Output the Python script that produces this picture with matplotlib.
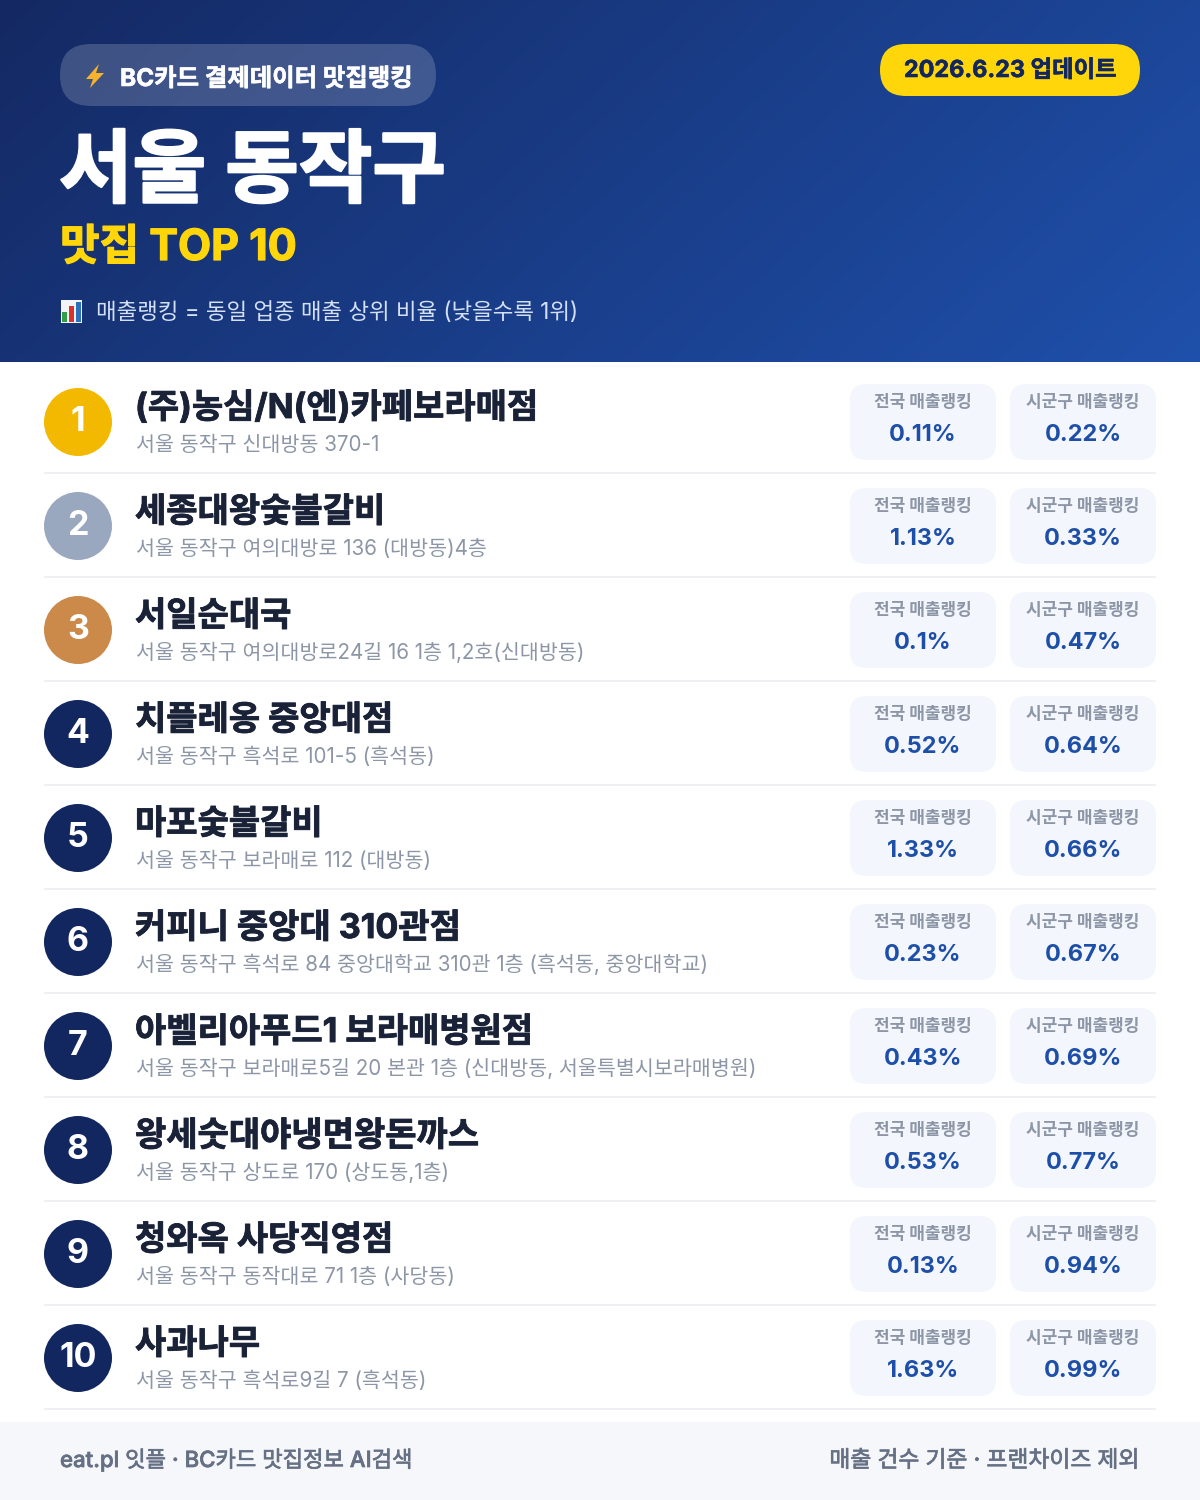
import numpy as np
import matplotlib
matplotlib.use("Agg")
import matplotlib.pyplot as plt
import matplotlib.patheffects as pe
from matplotlib.patches import FancyBboxPatch, Circle, Rectangle, Polygon

FONT = ['Inter', 'Noto Sans CJK KR', 'DejaVu Sans']
plt.rcParams['font.family'] = FONT

ranks = [1, 2, 3, 4, 5, 6, 7, 8, 9, 10]
names = ["(주)농심/N(엔)카페보라매점", "세종대왕숯불갈비", "서일순대국", "치플레옹 중앙대점", "마포숯불갈비",
         "커피니 중앙대 310관점", "아벨리아푸드1 보라매병원점", "왕세숫대야냉면왕돈까스", "청와옥 사당직영점", "사과나무"]
addresses = ["서울 동작구 신대방동 370-1", "서울 동작구 여의대방로 136 (대방동)4층",
             "서울 동작구 여의대방로24길 16 1층 1,2호(신대방동)", "서울 동작구 흑석로 101-5 (흑석동)",
             "서울 동작구 보라매로 112 (대방동)", "서울 동작구 흑석로 84 중앙대학교 310관 1층 (흑석동, 중앙대학교)",
             "서울 동작구 보라매로5길 20 본관 1층 (신대방동, 서울특별시보라매병원)", "서울 동작구 상도로 170 (상도동,1층)",
             "서울 동작구 동작대로 71 1층 (사당동)", "서울 동작구 흑석로9길 7 (흑석동)"]
national = ["0.11%", "1.13%", "0.1%", "0.52%", "1.33%", "0.23%", "0.43%", "0.53%", "0.13%", "1.63%"]
district = ["0.22%", "0.33%", "0.47%", "0.64%", "0.66%", "0.67%", "0.69%", "0.77%", "0.94%", "0.99%"]
circle_colors = ["#F2B900", "#9AA8BF", "#CB8A49"] + ["#12265F"] * 7

fig = plt.figure(figsize=(12, 15), dpi=100, facecolor='white')
ax = fig.add_axes([0, 0, 1, 1])
ax.set_xlim(0, 1200)
ax.set_ylim(1500, 0)
ax.axis('off')

def px(size):
    return size * 72 / 100

def T(x, y, s, size, color, weight='regular', ha='left', va='baseline', stroke=0, **kw):
    t = ax.text(x, y, s, fontsize=px(size), color=color, fontweight=weight, ha=ha, va=va,
                family=FONT, **kw)
    if stroke:
        t.set_path_effects([pe.withStroke(linewidth=stroke, foreground=color)])
    return t

def rbox(x0, y0, x1, y1, r, color, alpha=1.0, z=2):
    p = FancyBboxPatch((x0 + r, y0 + r), x1 - x0 - 2 * r, y1 - y0 - 2 * r,
                       boxstyle=f"round,pad={r},rounding_size={r}",
                       fc=color, ec='none', alpha=alpha, zorder=z)
    ax.add_patch(p)

# header gradient
h, w = 362, 1200
yy, xx = np.mgrid[0:h, 0:w]
t = (xx / w * 0.75 + yy / h * 0.25)
c0 = np.array([0x14, 0x29, 0x63]) / 255
c1 = np.array([0x1F, 0x50, 0xAB]) / 255
grad = c0[None, None, :] + (c1 - c0)[None, None, :] * t[..., None]
ax.imshow(grad, extent=(0, 1200, 362, 0), aspect='auto', zorder=1, interpolation='bilinear')
ax.set_xlim(0, 1200)
ax.set_ylim(1500, 0)

# header pills
rbox(60, 44, 436, 106, 31, 'white', alpha=0.18)
rbox(880, 44, 1140, 96, 26, '#FFD60A')
T(120, 86, "BC카드 결제데이터 맛집랭킹", 24.4, 'white', 'bold', stroke=0.4, zorder=5)
T(1010, 77, "2026.6.23 업데이트", 23.4, '#12265F', 'bold', stroke=0.4, ha='center', zorder=5)
# lightning icon
ax.add_patch(Polygon([(99, 64), (86, 79), (93, 79), (90, 88), (104, 73), (96, 73)],
                     closed=True, fc='#F7B32B', ec='none', zorder=5))
# title
T(59, 196, "서울 동작구", 80, 'white', 'bold', stroke=1.6, zorder=5)
T(60, 260, "맛집 TOP 10", 43, '#FFD60A', 'bold', stroke=0.9, zorder=5)
# chart icon
ax.add_patch(Rectangle((61, 300), 21, 23, fc='#F2F4F8', ec='none', zorder=5))
ax.add_patch(Rectangle((62, 312), 5, 10, fc='#2F9E44', ec='none', zorder=6))
ax.add_patch(Rectangle((69, 306), 5, 16, fc='#D9342B', ec='none', zorder=6))
ax.add_patch(Rectangle((76, 302), 5, 20, fc='#2C6FBB', ec='none', zorder=6))
T(96, 319, "매출랭킹 = 동일 업종 매출 상위 비율 (낮을수록 1위)", 22.4, '#D3E0F7', zorder=5)

# rows
for i, rank in enumerate(ranks):
    o = 104 * i
    ax.add_patch(Circle((78, 422 + o), 34, fc=circle_colors[i], ec='none', zorder=3))
    T(78, 431 + o, str(rank), 34, 'white', 'bold', ha='center', zorder=4)
    T(135, 418 + o, names[i], 34, '#1A2238', 'bold', stroke=0.6, zorder=4)
    T(135.5, 451 + o, addresses[i], 20.6, '#8D96A6', zorder=4)
    rbox(850, 384 + o, 996, 460 + o, 16, '#F3F6FC')
    rbox(1010, 384 + o, 1156, 460 + o, 16, '#F3F6FC')
    T(923, 407 + o, "전국 매출랭킹", 17, '#8D96A6', 'bold', ha='center', zorder=4)
    T(1083, 407 + o, "시군구 매출랭킹", 17, '#8D96A6', 'bold', ha='center', zorder=4)
    T(923, 441 + o, national[i], 23.5, '#1E4FA8', 'bold', ha='center', zorder=4)
    T(1083, 441 + o, district[i], 23.5, '#1E4FA8', 'bold', ha='center', zorder=4)
    ax.add_patch(Rectangle((44, 472 + o), 1112, 2, fc='#EEF0F3', ec='none', zorder=2))

# footer
ax.add_patch(Rectangle((0, 1422), 1200, 78, fc='#F5F7FA', ec='none', zorder=1))
T(60, 1467, "eat.pl 잇플 · BC카드 맛집정보 AI검색", 22.2, '#667085', 'medium', stroke=0.5, zorder=4)
T(1140, 1467, "매출 건수 기준 · 프랜차이즈 제외", 22.8, '#667085', 'medium', stroke=0.5, ha='right', zorder=4)

fig.savefig("out.png", dpi=100)
